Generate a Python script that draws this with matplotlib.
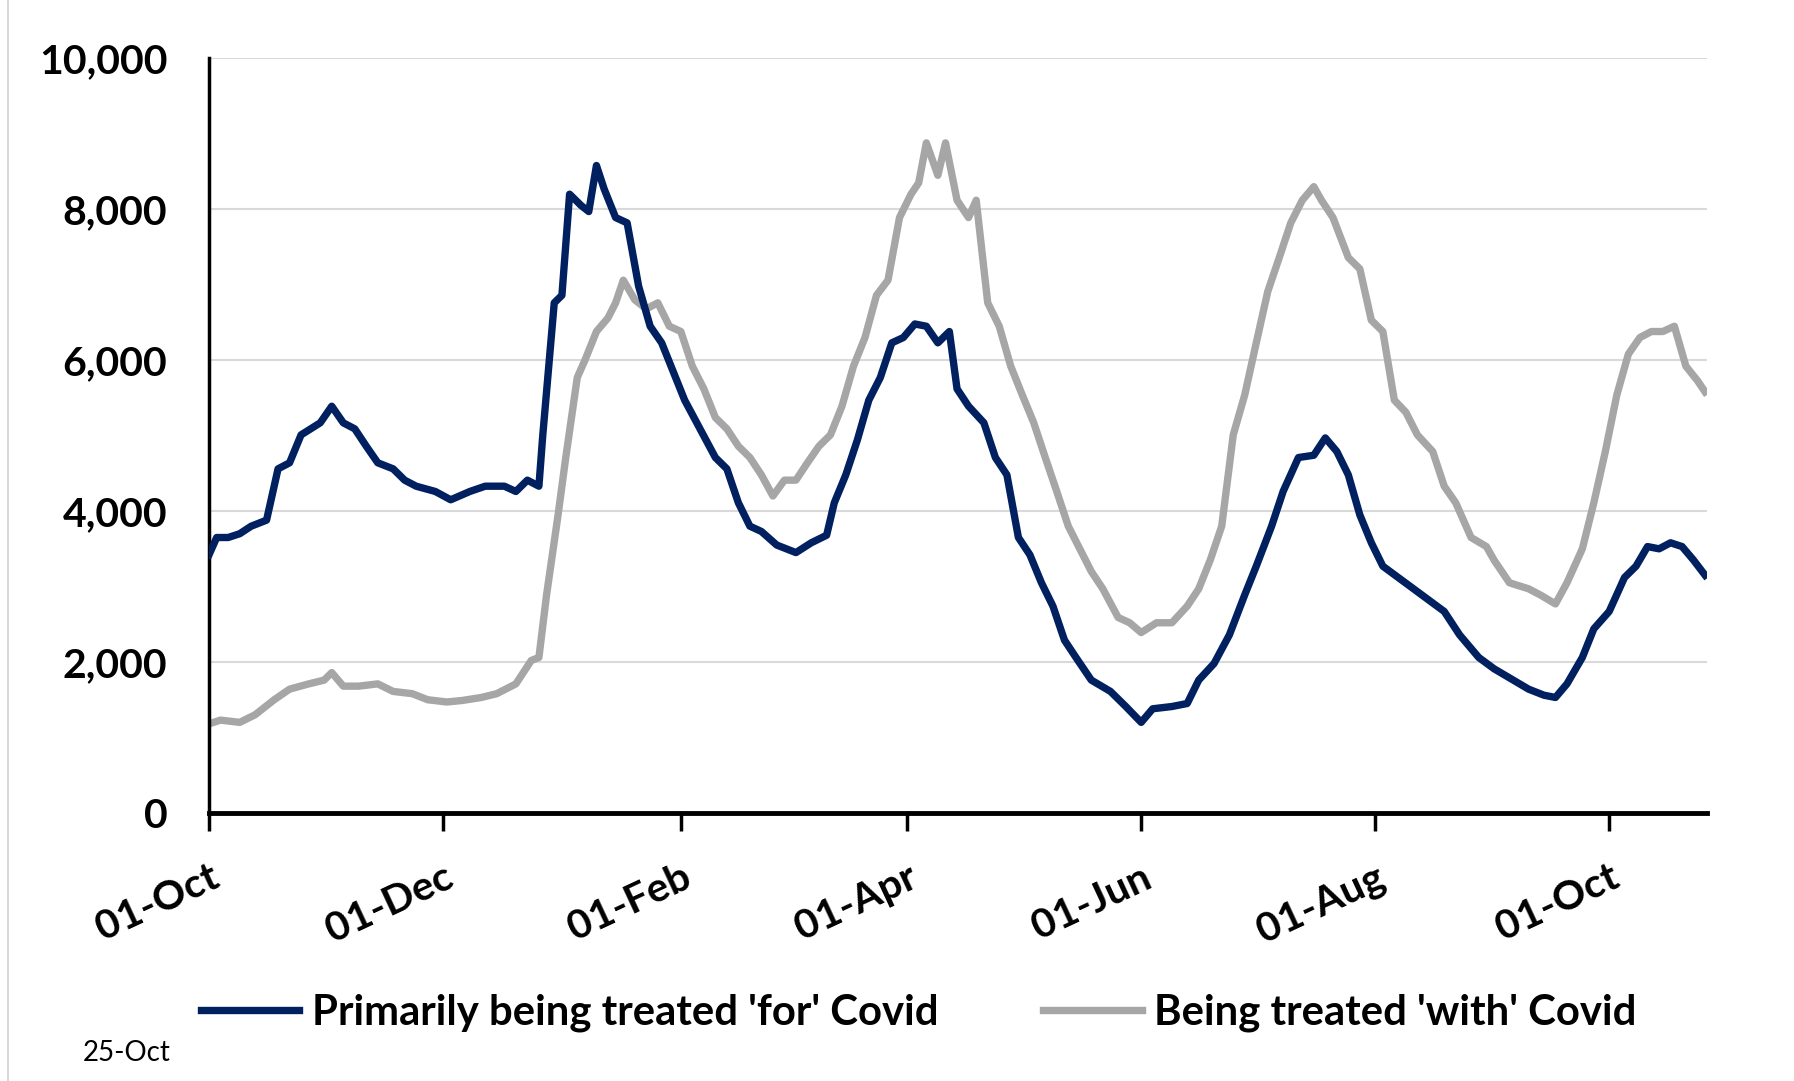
import matplotlib
matplotlib.use("Agg")
import matplotlib.pyplot as plt
import matplotlib.dates as mdates
import numpy as np
import pandas as pd

plt.rcParams['font.family'] = ['Lato', 'DejaVu Sans']

start = pd.Timestamp("2021-10-01")

# days since 01-Oct-2021 and patients
for_days = [0, 2, 5, 8, 11, 15, 18, 21, 24, 29, 32, 35, 38, 41, 44, 48, 51, 54, 59, 63,
            68, 72, 77, 80, 83, 86, 87, 90, 92, 94, 97, 99, 101, 103, 106, 109, 112, 115, 118, 121,
            124, 128, 132, 135, 138, 141, 144, 148, 153, 157, 161, 163, 166, 169, 172, 175, 178, 181, 184, 187,
            190, 193, 195, 198, 202, 205, 208, 211, 214, 217, 220, 223, 226, 230, 235, 239, 243, 246, 251, 255,
            258, 262, 266, 270, 273, 277, 280, 284, 288, 291, 294, 297, 300, 303, 306, 310, 314, 318, 322, 326,
            331, 335, 340, 344, 348, 351, 354, 358, 361, 365, 369, 372, 375, 378, 381, 384, 387, 390]
for_covid = [3420, 3650, 3650, 3700, 3800, 3880, 4560, 4640, 5010, 5170, 5390, 5170, 5090, 4860, 4640, 4560, 4410, 4330, 4260, 4150,
             4260, 4330, 4330, 4260, 4410, 4330, 5000, 6760, 6860, 8200, 8050, 7970, 8580, 8270, 7890, 7820, 6980, 6450, 6230, 5850,
             5470, 5090, 4710, 4560, 4110, 3800, 3730, 3550, 3450, 3580, 3680, 4110, 4480, 4940, 5470, 5770, 6230, 6300, 6480, 6450,
             6230, 6380, 5620, 5390, 5170, 4710, 4480, 3650, 3420, 3050, 2740, 2290, 2060, 1760, 1610, 1410, 1200, 1380, 1410, 1450,
             1760, 1980, 2360, 2890, 3270, 3800, 4260, 4710, 4740, 4970, 4790, 4480, 3950, 3580, 3270, 3120, 2970, 2820, 2670, 2360,
             2060, 1910, 1760, 1640, 1560, 1530, 1710, 2060, 2440, 2670, 3120, 3270, 3530, 3500, 3580, 3530, 3350, 3150]

with_days = [0, 3, 8, 12, 17, 21, 26, 30, 32, 35, 39, 44, 48, 53, 57, 62, 66, 71, 75, 80,
             84, 86, 88, 91, 93, 96, 98, 101, 104, 106, 108, 111, 114, 117, 120, 123, 126, 129, 132, 135,
             138, 141, 144, 147, 150, 153, 156, 159, 162, 165, 168, 171, 174, 177, 180, 183, 185, 187, 190, 192,
             195, 198, 200, 203, 206, 209, 212, 215, 218, 221, 224, 227, 230, 233, 237, 240, 243, 247, 251, 255,
             258, 261, 264, 267, 270, 273, 276, 279, 282, 285, 288, 290, 293, 297, 300, 303, 306, 309, 312, 315,
             319, 322, 325, 329, 333, 335, 339, 344, 347, 351, 354, 358, 361, 364, 367, 370, 373, 376, 379, 382,
             385, 388, 390]
with_covid = [1180, 1230, 1200, 1300, 1500, 1640, 1710, 1760, 1860, 1680, 1680, 1710, 1610, 1580, 1500, 1470, 1490, 1530, 1580, 1710,
              2020, 2060, 2890, 3950, 4710, 5770, 6000, 6380, 6560, 6760, 7060, 6800, 6680, 6760, 6450, 6380, 5920, 5620, 5240, 5090,
              4860, 4710, 4480, 4200, 4410, 4410, 4640, 4860, 5010, 5390, 5920, 6300, 6860, 7060, 7890, 8200, 8350, 8880, 8450, 8880,
              8120, 7890, 8120, 6760, 6450, 5920, 5540, 5170, 4710, 4260, 3800, 3500, 3200, 2970, 2590, 2520, 2390, 2520, 2520, 2740,
              2970, 3350, 3800, 5010, 5540, 6230, 6910, 7360, 7820, 8120, 8300, 8120, 7890, 7360, 7210, 6530, 6380, 5470, 5310, 5010,
              4790, 4330, 4110, 3650, 3530, 3350, 3050, 2970, 2890, 2770, 3050, 3500, 4110, 4790, 5540, 6080, 6300, 6380, 6380, 6450,
              5920, 5730, 5580]

tick_months = ["2021-10-01", "2021-12-01", "2022-02-01", "2022-04-01", "2022-06-01", "2022-08-01", "2022-10-01"]
y_ticks = [0, 2000, 4000, 6000, 8000, 10000]

navy = "#002060"
grey = "#A6A6A6"
fs = 29.5

x_for = [start + pd.Timedelta(days=d) for d in for_days]
x_with = [start + pd.Timedelta(days=d) for d in with_days]

fig = plt.figure(figsize=(17.94, 10.81), dpi=100)
ax = fig.add_axes([0.1165, 0.248, 0.835, 0.698])

ax.plot(x_for, for_covid, color=navy, lw=5.3, solid_joinstyle='round', label="Primarily being treated 'for' Covid", zorder=3)
ax.plot(x_with, with_covid, color=grey, lw=5.3, solid_joinstyle='round', label="Being treated 'with' Covid", zorder=2)

ax.set_ylim(0, 10000)
ax.set_xlim(start, start + pd.Timedelta(days=390.5))
ax.set_yticks(y_ticks)
ax.set_yticklabels([f"{v:,}" for v in y_ticks], fontsize=fs, fontweight='bold')
ax.yaxis.grid(True, color='#D9D9D9', lw=1.5)
ax.set_axisbelow(True)

ax.set_xticks([pd.Timestamp(m) for m in tick_months])
ax.xaxis.set_major_formatter(mdates.DateFormatter("%d-%b"))
for lab in ax.get_xticklabels():
    lab.set_rotation(25)
    lab.set_ha('right')
    lab.set_rotation_mode('anchor')
    lab.set_fontsize(fs)
    lab.set_fontweight('bold')

ax.tick_params(axis='y', length=0, pad=30)
ax.tick_params(axis='x', length=13, width=2.5, color='black', pad=20)

for s in ['top', 'right']:
    ax.spines[s].set_visible(False)
ax.spines['left'].set_linewidth(2.5)
ax.spines['bottom'].set_linewidth(3.5)

fig.legend(loc='center', bbox_to_anchor=(0.512, 0.063), ncol=2, frameon=False,
           prop={'size': 30.2, 'weight': 'bold'}, handlelength=2.35, handletextpad=0.3,
           columnspacing=2.5)

fig.text(0.046, 0.026, "25-Oct", fontsize=20, ha='left', va='center')
fig.add_artist(plt.Line2D([0.0045, 0.0045], [0, 1], transform=fig.transFigure, color='#D0D0D0', lw=1.2))

fig.savefig("out.png", dpi=100)
